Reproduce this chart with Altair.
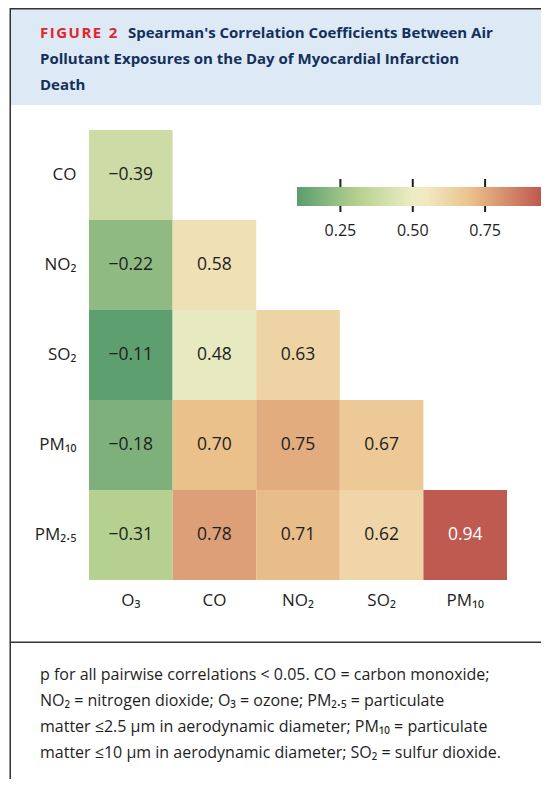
import altair as alt
import pandas as pd

# ---- data ----
ROWS = ["CO", "NO₂", "SO₂", "PM₁₀", "PM₂.₅"]
COLS = ["O₃", "CO", "NO₂", "SO₂", "PM₁₀"]
R_CO = [-0.39]
R_NO2 = [-0.22, 0.58]
R_SO2 = [-0.11, 0.48, 0.63]
R_PM10 = [-0.18, 0.70, 0.75, 0.67]
R_PM25 = [-0.31, 0.78, 0.71, 0.62, 0.94]
ROW_VALUES = [R_CO, R_NO2, R_SO2, R_PM10, R_PM25]

COLOR_DOMAIN = [0.10, 0.31, 0.52, 0.70, 0.95]
COLOR_RANGE = ["#5a9c6e", "#b6d18f", "#f3efcb", "#ebc18b", "#bd564e"]
LEGEND_TICKS = [0.25, 0.50, 0.75]

TITLE_RED = "\u200a".join("FIGURE") + "\u2002" + "2"
TITLE_LINES = [
    "Spearman's Correlation Coefficients Between Air",
    "Pollutant Exposures on the Day of Myocardial Infarction",
    "Death",
]
CAPTION_LINES = [
    "p for all pairwise correlations < 0.05. CO = carbon monoxide;",
    "NO₂ = nitrogen dioxide; O₃ = ozone; PM₂.₅ = particulate",
    "matter ≤2.5 μm in aerodynamic diameter; PM₁₀ = particulate",
    "matter ≤10 μm in aerodynamic diameter; SO₂ = sulfur dioxide.",
]

records = []
for row, vals in zip(ROWS, ROW_VALUES):
    for col, v in zip(COLS, vals):
        records.append({"row": row, "col": col, "r": v})
df = pd.DataFrame(records)

FONT = "Open Sans"
DARK = "#1e1e1e"
W, H = 418, 450
RIGHT = 452

one = pd.DataFrame({"a": [0]})

def deco_rect(x, x2, y, y2, color):
    return alt.Chart(one).mark_rect(color=color).encode(
        x=alt.value(x), x2=alt.value(x2), y=alt.value(y), y2=alt.value(y2))

def deco_text(txt, x, y, size, color, weight="normal"):
    return alt.Chart(one).mark_text(
        align="left", baseline="middle", font=FONT, fontSize=size,
        color=color, fontWeight=weight).encode(
        x=alt.value(x), y=alt.value(y), text=alt.value(txt))

layers = []
# header band and frame lines
layers.append(deco_rect(-78, RIGHT, -122, -25, "#dde9f5"))
layers.append(deco_rect(-79, RIGHT, -122, -120.5, "#333333"))
layers.append(deco_rect(-79.5, -78, -122, 660, "#333333"))
layers.append(deco_rect(-79, RIGHT, 511.5, 513, "#333333"))

# title
layers.append(deco_text(TITLE_RED, -49, -97, 15, "#e3242b", "bold"))
for i, line in enumerate(TITLE_LINES):
    x = 39 if i == 0 else -49
    layers.append(deco_text(line, x, -97 + 26 * i, 15, "#13305b", "bold"))

# caption
for i, line in enumerate(CAPTION_LINES):
    layers.append(deco_text(line, -49, 545 + 26 * i, 16, DARK))

base = alt.Chart(df).transform_calculate(absr="abs(datum.r)")

x_enc = alt.X("col:N", sort=COLS, scale=alt.Scale(paddingInner=0, paddingOuter=0),
              axis=alt.Axis(title=None, labelAngle=0, ticks=False, domain=False,
                            labelPadding=12, labelFontSize=17, labelFont=FONT,
                            labelColor=DARK, labelFontWeight=500))
y_enc = alt.Y("row:N", sort=ROWS, scale=alt.Scale(paddingInner=0, paddingOuter=0),
              axis=alt.Axis(title=None, ticks=False, domain=False,
                            labelPadding=13, labelFontSize=17, labelFont=FONT,
                            labelColor=DARK, labelFontWeight=500))

heat = base.mark_rect().encode(
    x=x_enc, y=y_enc,
    color=alt.Color("absr:Q",
                    scale=alt.Scale(domain=COLOR_DOMAIN, range=COLOR_RANGE,
                                    interpolate="rgb"),
                    legend=alt.Legend(orient="none", legendX=208, legendY=57,
                                      direction="horizontal", title=None,
                                      gradientLength=246, gradientThickness=19,
                                      gradientStrokeWidth=0,
                                      values=LEGEND_TICKS, format=".2f",
                                      labelFont=FONT, labelFontSize=16,
                                      labelColor=DARK, labelOffset=17,
                                      labelOverlap=False)),
)

labels = base.mark_text(font=FONT, fontSize=17.5).encode(
    x=x_enc,
    y=y_enc,
    text=alt.Text("r:Q", format=".2f"),
    color=alt.condition("datum.absr > 0.9", alt.value("white"), alt.value(DARK)),
)

cells = alt.layer(heat, labels).resolve_scale(x="shared", y="shared")

ticks = alt.Chart(pd.DataFrame({"t": LEGEND_TICKS})).mark_rule(
    color=DARK, strokeWidth=2).encode(
    x=alt.X("t:Q", scale=alt.Scale(domain=[COLOR_DOMAIN[0], COLOR_DOMAIN[-1]],
                                   range=[208, 454]), axis=None),
    y=alt.value(49), y2=alt.value(82))

chart = alt.layer(*layers, ticks, cells).resolve_scale(
    x="independent"
).properties(
    width=W, height=H,
    padding={"left": 81, "top": 122, "right": 34, "bottom": 199},
    autosize=alt.AutoSizeParams(type="none"),
).configure_view(strokeWidth=0)

chart.save("out.html", embed_options={"renderer": "svg", "actions": False})
